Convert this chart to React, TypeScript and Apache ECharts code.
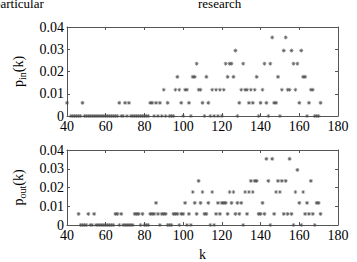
import React, { useEffect, useRef } from "react";
import * as echarts from "echarts";

// probability levels (count / N)
const P = [0, 0.0059, 0.0118, 0.0176, 0.0235, 0.0294, 0.0353];
const xTicks = [40, 60, 80, 100, 120, 140, 160, 180];
const yTicks = [0, 0.01, 0.02, 0.03, 0.04];

// p_in(k): non-zero points (k, level index into P)
const inK = [40, 48, 67, 70, 72, 83, 84, 86, 88, 90, 92, 96, 97, 98, 99, 101, 102, 103, 105, 106, 107, 108, 109, 110, 112, 113, 115, 117, 119, 121, 122, 123, 124, 125, 126, 127, 129, 130, 131, 132, 133, 134, 135, 136, 137, 138, 140, 141, 142, 143, 145, 146, 147, 148, 149, 151, 152, 153, 154, 155, 156, 157, 158, 159, 160, 161, 162, 163, 165, 166, 167, 171];
const inLevel = [1, 1, 1, 1, 1, 1, 1, 1, 1, 2, 1, 2, 3, 2, 1, 2, 2, 1, 3, 3, 4, 2, 2, 1, 3, 1, 2, 2, 2, 2, 4, 3, 4, 4, 3, 5, 1, 2, 4, 2, 2, 1, 2, 1, 2, 3, 1, 2, 4, 1, 4, 6, 1, 1, 3, 2, 5, 6, 2, 2, 5, 4, 2, 4, 1, 5, 3, 3, 1, 2, 2, 1];
// p_in(k): points at zero
const inZeroK = [42, 43, 44, 45, 46, 47, 49, 50, 51, 52, 53, 54, 55, 56, 57, 58, 59, 60, 61, 62, 63, 64, 65, 66, 68, 69, 71, 73, 74, 75, 76, 77, 78, 79, 80, 81, 82, 85, 87, 89, 91, 93, 94, 95, 100, 104, 111, 114, 116, 118, 120, 128, 139, 144, 150, 164, 168, 169, 170];

// p_out(k): non-zero points
const outK = [46, 51, 54, 65, 66, 68, 75, 76, 77, 79, 83, 84, 85, 86, 87, 89, 90, 91, 95, 96, 97, 99, 100, 101, 103, 105, 106, 107, 108, 109, 110, 111, 112, 113, 115, 117, 118, 119, 120, 121, 122, 123, 124, 125, 126, 127, 128, 129, 130, 132, 133, 134, 135, 136, 137, 138, 139, 140, 141, 142, 143, 144, 146, 147, 148, 149, 150, 151, 152, 153, 154, 155, 156, 158, 159, 160, 162, 163, 164, 165, 166, 167, 169, 170, 171];
const outLevel = [1, 1, 1, 1, 1, 1, 1, 1, 1, 1, 1, 1, 1, 2, 1, 1, 1, 1, 1, 1, 1, 1, 1, 2, 1, 3, 2, 1, 4, 2, 3, 1, 1, 2, 3, 1, 2, 1, 2, 2, 2, 1, 3, 2, 3, 1, 2, 1, 2, 3, 1, 3, 4, 3, 4, 4, 1, 1, 2, 1, 6, 4, 6, 1, 3, 4, 3, 4, 1, 4, 1, 6, 1, 3, 5, 2, 3, 1, 2, 1, 4, 1, 2, 2, 1];
// p_out(k): points at zero
const outZeroK = [47, 48, 49, 50, 52, 53, 55, 56, 57, 58, 59, 60, 61, 62, 63, 64, 67, 69, 70, 71, 72, 73, 74, 78, 80, 81, 82, 88, 92, 93, 94, 98, 102, 104, 114, 116, 131, 145, 157, 161, 168];

const FONT = "Liberation Serif";
const AX = "#555";
const STAR =
  "path://M4.2,0L5.8,0L5.8,10L4.2,10Z M0,4.2L10,4.2L10,5.8L0,5.8Z M1,2.1L2.1,1L9,7.9L7.9,9Z M7.9,1L9,2.1L2.1,9L1,7.9Z";

function pts(ks: number[], lv: number[] | null) {
  return ks.map((k, i) => [k, lv ? P[lv[i]] : 0]);
}

function xAx(grid: number, pos: "top" | "bottom", withName: boolean) {
  return {
    gridIndex: grid,
    type: "value",
    min: 40,
    max: 180,
    interval: 20,
    position: pos,
    name: withName ? "k" : "",
    nameLocation: "middle",
    nameGap: 22,
    nameTextStyle: { fontFamily: FONT, fontSize: 14, color: "#000", verticalAlign: "top" },
    axisLine: { show: true, onZero: false, lineStyle: { color: AX, width: 1 } },
    axisTick: { show: true, inside: true, length: 3, lineStyle: { color: AX } },
    axisLabel: {
      show: pos === "bottom",
      color: "#000",
      fontFamily: FONT,
      fontSize: 14,
      margin: 3,
      customValues: xTicks,
    },
    splitLine: { show: false },
  };
}

function yAx(grid: number, pos: "left" | "right", sub: string) {
  return {
    gridIndex: grid,
    type: "value",
    min: 0,
    max: 0.04,
    interval: 0.01,
    position: pos,
    name: pos === "left" ? `{a|p}{b|${sub}}{a|(k)}` : "",
    nameLocation: "middle",
    nameRotate: 90,
    nameGap: 40,
    nameTextStyle: {
      fontFamily: FONT,
      color: "#000",
      rich: {
        a: { fontFamily: FONT, fontSize: 14, color: "#000" },
        b: { fontFamily: FONT, fontSize: 10, color: "#000", padding: [7, 0, 0, 0] },
      },
    },
    axisLine: { show: true, onZero: false, lineStyle: { color: AX, width: 1 } },
    axisTick: { show: true, inside: true, length: 3, lineStyle: { color: AX } },
    axisLabel: {
      show: pos === "left",
      color: "#000",
      fontFamily: FONT,
      fontSize: 14,
      margin: 3,
      customValues: yTicks,
      formatter: (v: number) => (v === 0 ? "0" : v.toFixed(2)),
    },
    splitLine: { show: false },
  };
}

export default function App() {
  const ref = useRef<HTMLDivElement>(null);
  useEffect(() => {
    if (!ref.current) return;
    const chart = echarts.init(ref.current, null, { renderer: "svg" });
    const sym = { symbol: STAR, symbolSize: 4, itemStyle: { color: "#444" } };
    chart.setOption({
      animation: false,
      backgroundColor: "#fff",
      grid: [
        { left: 67, top: 27, width: 271, height: 89 },
        { left: 67, top: 150, width: 271, height: 89 },
      ],
      xAxis: [xAx(0, "bottom", false), xAx(0, "top", false), xAx(1, "bottom", true), xAx(1, "top", false)],
      yAxis: [yAx(0, "left", "in"), yAx(0, "right", "in"), yAx(1, "left", "out"), yAx(1, "right", "out")],
      series: [
        { type: "scatter", xAxisIndex: 0, yAxisIndex: 0, data: pts(inK, inLevel), ...sym },
        { type: "scatter", xAxisIndex: 0, yAxisIndex: 0, data: pts(inZeroK, null), ...sym },
        { type: "scatter", xAxisIndex: 2, yAxisIndex: 2, data: pts(outK, outLevel), ...sym },
        { type: "scatter", xAxisIndex: 2, yAxisIndex: 2, data: pts(outZeroK, null), ...sym },
      ],
      graphic: [
        { type: "text", left: -6, top: -3, style: { text: "particular", font: `13px "${FONT}"`, fill: "#000" } },
        { type: "text", left: 198, top: -3, style: { text: "research", font: `13px "${FONT}"`, fill: "#000" } },
      ],
    });
    return () => chart.dispose();
  }, []);
  return (
    <div
      ref={ref}
      style={{ position: "fixed", left: 0, top: 0, width: 357, height: 262, background: "#fff" }}
    />
  );
}
